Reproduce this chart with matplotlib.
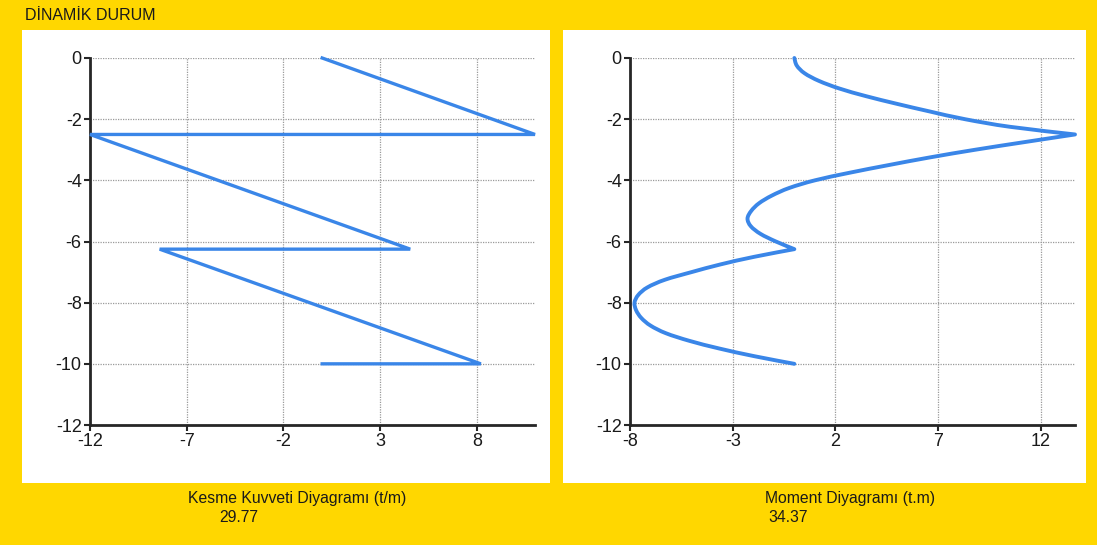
import matplotlib
matplotlib.use("Agg")
import numpy as np
import matplotlib.pyplot as plt
from matplotlib.patches import Rectangle, PathPatch
from matplotlib.path import Path

# Shear force diagram (t/m) along the depth
shear_depth = [0, -2.5, -2.5, -6.25, -6.25, -10, -10]
shear_force = [0, 11.0, -12.0, 4.55, -8.4, 8.2, 0]

# Moment diagram (t.m) along the depth, every 0.25 m
moment_depth = [0, -0.25, -0.5, -0.75, -1.0, -1.25, -1.5, -1.75, -2.0, -2.25, -2.5,
                -2.75, -3.0, -3.25, -3.5, -3.75, -4.0, -4.25, -4.5, -4.75, -5.0,
                -5.25, -5.5, -5.75, -6.0, -6.25,
                -6.5, -6.75, -7.0, -7.25, -7.5, -7.75, -8.0, -8.25, -8.5, -8.75,
                -9.0, -9.25, -9.5, -9.75, -10.0]
moment_value = [0, 0.12, 0.5, 1.2, 2.2, 3.5, 5.0, 6.6, 8.3, 10.5, 13.66,
                11.2, 8.8, 6.6, 4.6, 2.7, 1.0, -0.25, -1.1, -1.72, -2.1,
                -2.28, -2.12, -1.65, -0.9, 0.0,
                -1.95, -3.6, -5.0, -6.3, -7.15, -7.6, -7.78, -7.7, -7.45, -7.0,
                -6.25, -5.1, -3.65, -1.95, 0.0]
# indices where the moment curve has a sharp corner
moment_corners = [10, 25]

y_ticks = [0, -2, -4, -6, -8, -10, -12]
shear_ticks = [-12, -7, -2, 3, 8]
moment_ticks = [-8, -3, 2, 7, 12]

panel_title = "DİNAMİK DURUM"
shear_title = "Kesme Kuvveti Diyagramı (t/m)"
shear_total = "29.77"
moment_title = "Moment Diyagramı (t.m)"
moment_total = "34.37"

W, H = 1097, 545
BG = "#FFD700"
LINE = "#3A86E8"
AXC = "#262626"

plt.rcParams["font.family"] = ["Liberation Sans", "DejaVu Sans"]

fig = plt.figure(figsize=(W / 100, H / 100), dpi=100, facecolor=BG)


def px_rect(x0, y0, x1, y1):
    return [x0 / W, 1 - y1 / H, (x1 - x0) / W, (y1 - y0) / H]


# white panels behind each chart
for (x0, y0, x1, y1) in [(22, 30, 550, 483), (563, 30, 1086, 483)]:
    fig.patches.append(Rectangle((x0 / W, 1 - y1 / H), (x1 - x0) / W, (y1 - y0) / H,
                                 transform=fig.transFigure, facecolor="white",
                                 edgecolor="none", zorder=-5))


def style_axes(ax, xticks, xlim):
    ax.set_zorder(2)
    ax.set_facecolor("white")
    ax.set_xlim(*xlim)
    ax.set_ylim(-12, 0)
    ax.set_xticks(xticks)
    ax.set_yticks(y_ticks)
    ax.set_xticklabels([str(t) for t in xticks])
    ax.set_yticklabels([str(t) for t in y_ticks])
    for s in ("top", "right"):
        ax.spines[s].set_visible(False)
    for s in ("left", "bottom"):
        ax.spines[s].set_color(AXC)
        ax.spines[s].set_linewidth(2)
    ax.tick_params(direction="out", length=4, width=1.5, color=AXC,
                   labelsize=13, labelcolor="#1a1a1a", pad=2)
    ax.grid(True, color="#9a9a9a", linestyle=(0, (1, 1)), linewidth=0.9)
    ax.set_axisbelow(True)


def spline_path(xs, ys, breaks):
    """Smooth cubic path through the points, kept sharp at the break indices."""
    pts = np.column_stack([xs, ys]).astype(float)
    cuts = [0] + list(breaks) + [len(pts) - 1]
    verts, codes = [pts[0]], [Path.MOVETO]
    for a, b in zip(cuts[:-1], cuts[1:]):
        seg = pts[a:b + 1]
        n = len(seg)
        for i in range(n - 1):
            p0 = seg[i - 1] if i > 0 else seg[i]
            p1, p2 = seg[i], seg[i + 1]
            p3 = seg[i + 2] if i + 2 < n else seg[i + 1]
            c1 = p1 + (p2 - p0) / 6.0
            c2 = p2 - (p3 - p1) / 6.0
            verts += [c1, c2, p2]
            codes += [Path.CURVE4] * 3
    return Path(np.array(verts), codes)


ax1 = fig.add_axes(px_rect(90, 58, 535, 425))
ax1.plot(shear_force, shear_depth, color=LINE, lw=2.4, solid_joinstyle="miter",
         clip_on=False, zorder=3)
style_axes(ax1, shear_ticks, (-12, max(shear_force)))

ax2 = fig.add_axes(px_rect(630, 58, 1075, 425))
ax2.add_patch(PathPatch(spline_path(moment_value, moment_depth, moment_corners),
                        facecolor="none", edgecolor=LINE, lw=2.8, joinstyle="round",
                        capstyle="round", clip_on=False, zorder=3))
style_axes(ax2, moment_ticks, (-8, max(moment_value)))

text_kw = dict(transform=fig.transFigure, color="#1a1a1a",
               family=["Liberation Sans Narrow", "Liberation Sans", "DejaVu Sans"])
fig.text(25 / W, 1 - 16 / H, panel_title, fontsize=11.5, va="center", ha="left", **text_kw)
fig.text(188 / W, 1 - 499 / H, shear_title, fontsize=11.3, va="center", ha="left", **text_kw)
fig.text(219 / W, 1 - 517 / H, shear_total, fontsize=11.3, va="center", ha="left", **text_kw)
fig.text(765 / W, 1 - 499 / H, moment_title, fontsize=11.3, va="center", ha="left", **text_kw)
fig.text(768 / W, 1 - 517 / H, moment_total, fontsize=11.3, va="center", ha="left", **text_kw)

fig.savefig("out.png", dpi=100, facecolor=BG)
